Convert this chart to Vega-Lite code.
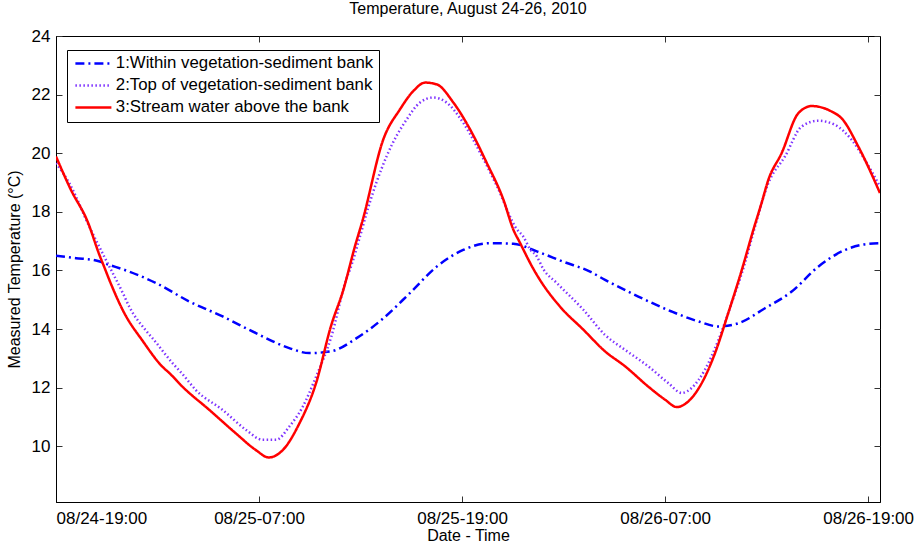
{
  "$schema": "https://vega.github.io/schema/vega-lite/v6.json",
  "width": 824,
  "height": 466,
  "autosize": {"type": "none"},
  "padding": {"left": 56, "top": 36, "right": 34, "bottom": 41},
  "title": {"text": "Temperature, August 24-26, 2010", "font": "Liberation Sans", "fontSize": 16, "fontWeight": "normal", "color": "black", "offset": 10},
  "datasets": {
    "temps": [
      {"s": "1:Within vegetation-sediment bank", "t": "2010-08-24T19:00", "v": 16.5},
      {"s": "1:Within vegetation-sediment bank", "t": "2010-08-24T20:11", "v": 16.42},
      {"s": "1:Within vegetation-sediment bank", "t": "2010-08-24T21:22", "v": 16.34},
      {"s": "1:Within vegetation-sediment bank", "t": "2010-08-24T22:09", "v": 16.19},
      {"s": "1:Within vegetation-sediment bank", "t": "2010-08-24T23:20", "v": 15.96},
      {"s": "1:Within vegetation-sediment bank", "t": "2010-08-25T00:55", "v": 15.57},
      {"s": "1:Within vegetation-sediment bank", "t": "2010-08-25T02:53", "v": 14.94},
      {"s": "1:Within vegetation-sediment bank", "t": "2010-08-25T04:51", "v": 14.43},
      {"s": "1:Within vegetation-sediment bank", "t": "2010-08-25T06:49", "v": 13.86},
      {"s": "1:Within vegetation-sediment bank", "t": "2010-08-25T08:47", "v": 13.35},
      {"s": "1:Within vegetation-sediment bank", "t": "2010-08-25T09:58", "v": 13.18},
      {"s": "1:Within vegetation-sediment bank", "t": "2010-08-25T11:15", "v": 13.24},
      {"s": "1:Within vegetation-sediment bank", "t": "2010-08-25T12:46", "v": 13.69},
      {"s": "1:Within vegetation-sediment bank", "t": "2010-08-25T14:21", "v": 14.37},
      {"s": "1:Within vegetation-sediment bank", "t": "2010-08-25T15:55", "v": 15.23},
      {"s": "1:Within vegetation-sediment bank", "t": "2010-08-25T17:30", "v": 16.13},
      {"s": "1:Within vegetation-sediment bank", "t": "2010-08-25T19:04", "v": 16.7},
      {"s": "1:Within vegetation-sediment bank", "t": "2010-08-25T20:39", "v": 16.93},
      {"s": "1:Within vegetation-sediment bank", "t": "2010-08-25T22:02", "v": 16.91},
      {"s": "1:Within vegetation-sediment bank", "t": "2010-08-25T23:25", "v": 16.65},
      {"s": "1:Within vegetation-sediment bank", "t": "2010-08-26T00:59", "v": 16.3},
      {"s": "1:Within vegetation-sediment bank", "t": "2010-08-26T02:34", "v": 15.96},
      {"s": "1:Within vegetation-sediment bank", "t": "2010-08-26T03:27", "v": 15.68},
      {"s": "1:Within vegetation-sediment bank", "t": "2010-08-26T05:25", "v": 15.11},
      {"s": "1:Within vegetation-sediment bank", "t": "2010-08-26T07:23", "v": 14.6},
      {"s": "1:Within vegetation-sediment bank", "t": "2010-08-26T08:58", "v": 14.26},
      {"s": "1:Within vegetation-sediment bank", "t": "2010-08-26T10:09", "v": 14.09},
      {"s": "1:Within vegetation-sediment bank", "t": "2010-08-26T11:20", "v": 14.2},
      {"s": "1:Within vegetation-sediment bank", "t": "2010-08-26T12:54", "v": 14.71},
      {"s": "1:Within vegetation-sediment bank", "t": "2010-08-26T14:29", "v": 15.28},
      {"s": "1:Within vegetation-sediment bank", "t": "2010-08-26T16:03", "v": 16.13},
      {"s": "1:Within vegetation-sediment bank", "t": "2010-08-26T17:38", "v": 16.7},
      {"s": "1:Within vegetation-sediment bank", "t": "2010-08-26T18:40", "v": 16.88},
      {"s": "1:Within vegetation-sediment bank", "t": "2010-08-26T19:42", "v": 16.93},

      {"s": "2:Top of vegetation-sediment bank", "t": "2010-08-24T19:00", "v": 19.66},
      {"s": "2:Top of vegetation-sediment bank", "t": "2010-08-24T19:47", "v": 18.98},
      {"s": "2:Top of vegetation-sediment bank", "t": "2010-08-24T20:58", "v": 17.5},
      {"s": "2:Top of vegetation-sediment bank", "t": "2010-08-24T21:57", "v": 16.36},
      {"s": "2:Top of vegetation-sediment bank", "t": "2010-08-24T22:57", "v": 15.23},
      {"s": "2:Top of vegetation-sediment bank", "t": "2010-08-24T23:20", "v": 14.76},
      {"s": "2:Top of vegetation-sediment bank", "t": "2010-08-25T00:19", "v": 13.95},
      {"s": "2:Top of vegetation-sediment bank", "t": "2010-08-25T00:43", "v": 13.68},
      {"s": "2:Top of vegetation-sediment bank", "t": "2010-08-25T01:54", "v": 12.83},
      {"s": "2:Top of vegetation-sediment bank", "t": "2010-08-25T02:29", "v": 12.46},
      {"s": "2:Top of vegetation-sediment bank", "t": "2010-08-25T03:16", "v": 11.92},
      {"s": "2:Top of vegetation-sediment bank", "t": "2010-08-25T04:51", "v": 11.24},
      {"s": "2:Top of vegetation-sediment bank", "t": "2010-08-25T06:14", "v": 10.56},
      {"s": "2:Top of vegetation-sediment bank", "t": "2010-08-25T07:13", "v": 10.22},
      {"s": "2:Top of vegetation-sediment bank", "t": "2010-08-25T08:00", "v": 10.22},
      {"s": "2:Top of vegetation-sediment bank", "t": "2010-08-25T08:47", "v": 10.67},
      {"s": "2:Top of vegetation-sediment bank", "t": "2010-08-25T09:35", "v": 11.35},
      {"s": "2:Top of vegetation-sediment bank", "t": "2010-08-25T10:22", "v": 12.37},
      {"s": "2:Top of vegetation-sediment bank", "t": "2010-08-25T11:15", "v": 13.7},
      {"s": "2:Top of vegetation-sediment bank", "t": "2010-08-25T12:11", "v": 15.75},
      {"s": "2:Top of vegetation-sediment bank", "t": "2010-08-25T12:23", "v": 16.05},
      {"s": "2:Top of vegetation-sediment bank", "t": "2010-08-25T12:58", "v": 17.16},
      {"s": "2:Top of vegetation-sediment bank", "t": "2010-08-25T13:22", "v": 17.98},
      {"s": "2:Top of vegetation-sediment bank", "t": "2010-08-25T14:33", "v": 19.91},
      {"s": "2:Top of vegetation-sediment bank", "t": "2010-08-25T15:44", "v": 21.16},
      {"s": "2:Top of vegetation-sediment bank", "t": "2010-08-25T16:31", "v": 21.73},
      {"s": "2:Top of vegetation-sediment bank", "t": "2010-08-25T17:18", "v": 21.9},
      {"s": "2:Top of vegetation-sediment bank", "t": "2010-08-25T18:05", "v": 21.73},
      {"s": "2:Top of vegetation-sediment bank", "t": "2010-08-25T19:04", "v": 21.04},
      {"s": "2:Top of vegetation-sediment bank", "t": "2010-08-25T20:04", "v": 20.02},
      {"s": "2:Top of vegetation-sediment bank", "t": "2010-08-25T21:03", "v": 18.89},
      {"s": "2:Top of vegetation-sediment bank", "t": "2010-08-25T22:14", "v": 17.41},
      {"s": "2:Top of vegetation-sediment bank", "t": "2010-08-25T22:37", "v": 17.16},
      {"s": "2:Top of vegetation-sediment bank", "t": "2010-08-25T23:01", "v": 16.73},
      {"s": "2:Top of vegetation-sediment bank", "t": "2010-08-25T23:25", "v": 16.48},
      {"s": "2:Top of vegetation-sediment bank", "t": "2010-08-25T23:48", "v": 16.05},
      {"s": "2:Top of vegetation-sediment bank", "t": "2010-08-26T00:36", "v": 15.57},
      {"s": "2:Top of vegetation-sediment bank", "t": "2010-08-26T02:10", "v": 14.66},
      {"s": "2:Top of vegetation-sediment bank", "t": "2010-08-26T03:27", "v": 13.8},
      {"s": "2:Top of vegetation-sediment bank", "t": "2010-08-26T04:38", "v": 13.29},
      {"s": "2:Top of vegetation-sediment bank", "t": "2010-08-26T06:00", "v": 12.73},
      {"s": "2:Top of vegetation-sediment bank", "t": "2010-08-26T07:11", "v": 12.16},
      {"s": "2:Top of vegetation-sediment bank", "t": "2010-08-26T07:59", "v": 11.82},
      {"s": "2:Top of vegetation-sediment bank", "t": "2010-08-26T08:34", "v": 11.99},
      {"s": "2:Top of vegetation-sediment bank", "t": "2010-08-26T09:21", "v": 12.61},
      {"s": "2:Top of vegetation-sediment bank", "t": "2010-08-26T10:09", "v": 13.63},
      {"s": "2:Top of vegetation-sediment bank", "t": "2010-08-26T10:56", "v": 14.89},
      {"s": "2:Top of vegetation-sediment bank", "t": "2010-08-26T11:43", "v": 16.25},
      {"s": "2:Top of vegetation-sediment bank", "t": "2010-08-26T12:13", "v": 17.3},
      {"s": "2:Top of vegetation-sediment bank", "t": "2010-08-26T13:06", "v": 18.98},
      {"s": "2:Top of vegetation-sediment bank", "t": "2010-08-26T14:05", "v": 19.89},
      {"s": "2:Top of vegetation-sediment bank", "t": "2010-08-26T15:04", "v": 20.91},
      {"s": "2:Top of vegetation-sediment bank", "t": "2010-08-26T16:03", "v": 21.11},
      {"s": "2:Top of vegetation-sediment bank", "t": "2010-08-26T17:02", "v": 20.97},
      {"s": "2:Top of vegetation-sediment bank", "t": "2010-08-26T18:02", "v": 20.45},
      {"s": "2:Top of vegetation-sediment bank", "t": "2010-08-26T18:49", "v": 19.77},
      {"s": "2:Top of vegetation-sediment bank", "t": "2010-08-26T19:42", "v": 18.86},

      {"s": "3:Stream water above the bank", "t": "2010-08-24T19:00", "v": 19.89},
      {"s": "3:Stream water above the bank", "t": "2010-08-24T19:53", "v": 18.75},
      {"s": "3:Stream water above the bank", "t": "2010-08-24T20:52", "v": 17.67},
      {"s": "3:Stream water above the bank", "t": "2010-08-24T21:34", "v": 16.53},
      {"s": "3:Stream water above the bank", "t": "2010-08-24T21:51", "v": 16.12},
      {"s": "3:Stream water above the bank", "t": "2010-08-24T22:09", "v": 15.68},
      {"s": "3:Stream water above the bank", "t": "2010-08-24T23:02", "v": 14.55},
      {"s": "3:Stream water above the bank", "t": "2010-08-25T00:07", "v": 13.6},
      {"s": "3:Stream water above the bank", "t": "2010-08-25T01:18", "v": 12.71},
      {"s": "3:Stream water above the bank", "t": "2010-08-25T01:42", "v": 12.5},
      {"s": "3:Stream water above the bank", "t": "2010-08-25T02:29", "v": 12.03},
      {"s": "3:Stream water above the bank", "t": "2010-08-25T04:04", "v": 11.24},
      {"s": "3:Stream water above the bank", "t": "2010-08-25T05:38", "v": 10.44},
      {"s": "3:Stream water above the bank", "t": "2010-08-25T06:49", "v": 9.87},
      {"s": "3:Stream water above the bank", "t": "2010-08-25T07:34", "v": 9.62},
      {"s": "3:Stream water above the bank", "t": "2010-08-25T08:24", "v": 9.87},
      {"s": "3:Stream water above the bank", "t": "2010-08-25T09:23", "v": 10.78},
      {"s": "3:Stream water above the bank", "t": "2010-08-25T10:22", "v": 12.15},
      {"s": "3:Stream water above the bank", "t": "2010-08-25T11:15", "v": 14.1},
      {"s": "3:Stream water above the bank", "t": "2010-08-25T11:59", "v": 15.34},
      {"s": "3:Stream water above the bank", "t": "2010-08-25T12:40", "v": 16.82},
      {"s": "3:Stream water above the bank", "t": "2010-08-25T13:07", "v": 17.7},
      {"s": "3:Stream water above the bank", "t": "2010-08-25T14:21", "v": 20.48},
      {"s": "3:Stream water above the bank", "t": "2010-08-25T15:20", "v": 21.5},
      {"s": "3:Stream water above the bank", "t": "2010-08-25T16:07", "v": 22.12},
      {"s": "3:Stream water above the bank", "t": "2010-08-25T16:49", "v": 22.41},
      {"s": "3:Stream water above the bank", "t": "2010-08-25T17:30", "v": 22.35},
      {"s": "3:Stream water above the bank", "t": "2010-08-25T18:29", "v": 21.73},
      {"s": "3:Stream water above the bank", "t": "2010-08-25T19:28", "v": 20.82},
      {"s": "3:Stream water above the bank", "t": "2010-08-25T20:27", "v": 19.68},
      {"s": "3:Stream water above the bank", "t": "2010-08-25T21:26", "v": 18.43},
      {"s": "3:Stream water above the bank", "t": "2010-08-25T22:02", "v": 17.39},
      {"s": "3:Stream water above the bank", "t": "2010-08-25T22:25", "v": 16.95},
      {"s": "3:Stream water above the bank", "t": "2010-08-25T23:13", "v": 16.05},
      {"s": "3:Stream water above the bank", "t": "2010-08-25T23:36", "v": 15.68},
      {"s": "3:Stream water above the bank", "t": "2010-08-26T00:47", "v": 14.77},
      {"s": "3:Stream water above the bank", "t": "2010-08-26T02:10", "v": 13.98},
      {"s": "3:Stream water above the bank", "t": "2010-08-26T03:27", "v": 13.24},
      {"s": "3:Stream water above the bank", "t": "2010-08-26T04:38", "v": 12.73},
      {"s": "3:Stream water above the bank", "t": "2010-08-26T06:00", "v": 12.04},
      {"s": "3:Stream water above the bank", "t": "2010-08-26T07:00", "v": 11.59},
      {"s": "3:Stream water above the bank", "t": "2010-08-26T07:41", "v": 11.34},
      {"s": "3:Stream water above the bank", "t": "2010-08-26T08:22", "v": 11.53},
      {"s": "3:Stream water above the bank", "t": "2010-08-26T09:10", "v": 12.16},
      {"s": "3:Stream water above the bank", "t": "2010-08-26T09:57", "v": 13.18},
      {"s": "3:Stream water above the bank", "t": "2010-08-26T10:44", "v": 14.55},
      {"s": "3:Stream water above the bank", "t": "2010-08-26T11:32", "v": 16.02},
      {"s": "3:Stream water above the bank", "t": "2010-08-26T12:13", "v": 17.39},
      {"s": "3:Stream water above the bank", "t": "2010-08-26T12:42", "v": 18.3},
      {"s": "3:Stream water above the bank", "t": "2010-08-26T13:06", "v": 19.09},
      {"s": "3:Stream water above the bank", "t": "2010-08-26T13:53", "v": 20.0},
      {"s": "3:Stream water above the bank", "t": "2010-08-26T14:52", "v": 21.36},
      {"s": "3:Stream water above the bank", "t": "2010-08-26T15:40", "v": 21.61},
      {"s": "3:Stream water above the bank", "t": "2010-08-26T16:51", "v": 21.42},
      {"s": "3:Stream water above the bank", "t": "2010-08-26T17:26", "v": 21.19},
      {"s": "3:Stream water above the bank", "t": "2010-08-26T18:25", "v": 20.23},
      {"s": "3:Stream water above the bank", "t": "2010-08-26T19:42", "v": 18.64}
    ]
  },
  "data": {"name": "temps"},
  "layer": [
    {
      "mark": {"type": "line", "strokeWidth": 2.5, "clip": true, "interpolate": "monotone"},
      "encoding": {
        "x": {
          "field": "t", "type": "temporal",
          "scale": {"domain": [{"year": 2010, "month": 8, "date": 24, "hours": 19}, {"year": 2010, "month": 8, "date": 26, "hours": 19, "minutes": 42}]},
          "axis": {
            "orient": "bottom", "title": "Date - Time", "format": "%m/%d-%H:%M",
            "values": [
              {"year": 2010, "month": 8, "date": 24, "hours": 19},
              {"year": 2010, "month": 8, "date": 25, "hours": 7},
              {"year": 2010, "month": 8, "date": 25, "hours": 19},
              {"year": 2010, "month": 8, "date": 26, "hours": 7},
              {"year": 2010, "month": 8, "date": 26, "hours": 19}
            ],
            "labelPadding": 14, "titlePadding": 1
          }
        },
        "y": {
          "field": "v", "type": "quantitative",
          "scale": {"domain": [8.1, 24], "nice": false, "zero": false},
          "axis": {"orient": "left", "title": "Measured Temperature (°C)", "values": [10, 12, 14, 16, 18, 20, 22, 24], "labelPadding": 12, "titlePadding": 9}
        },
        "color": {
          "field": "s", "type": "nominal",
          "scale": {"domain": ["1:Within vegetation-sediment bank", "2:Top of vegetation-sediment bank", "3:Stream water above the bank"], "range": ["#0000ff", "#7f33ff", "#ff0000"]},
          "legend": {"title": null, "orient": "none", "legendX": 11, "legendY": 14}
        },
        "strokeDash": {
          "field": "s", "type": "nominal",
          "scale": {"domain": ["1:Within vegetation-sediment bank", "2:Top of vegetation-sediment bank", "3:Stream water above the bank"], "range": [[9, 4, 2, 4], [1.5, 2.5], [1, 0]]},
          "legend": {"title": null, "orient": "none", "legendX": 11, "legendY": 14}
        }
      }
    },
    {
      "mark": {"type": "line", "opacity": 0},
      "encoding": {
        "x": {
          "field": "t", "type": "temporal",
          "scale": {"domain": [{"year": 2010, "month": 8, "date": 24, "hours": 19}, {"year": 2010, "month": 8, "date": 26, "hours": 19, "minutes": 42}]},
          "axis": {
            "orient": "top", "title": null, "labels": false, "domain": false,
            "values": [
              {"year": 2010, "month": 8, "date": 24, "hours": 19},
              {"year": 2010, "month": 8, "date": 25, "hours": 7},
              {"year": 2010, "month": 8, "date": 25, "hours": 19},
              {"year": 2010, "month": 8, "date": 26, "hours": 7},
              {"year": 2010, "month": 8, "date": 26, "hours": 19}
            ]
          }
        },
        "y": {
          "field": "v", "type": "quantitative",
          "scale": {"domain": [8.1, 24], "nice": false, "zero": false},
          "axis": {"orient": "right", "title": null, "labels": false, "domain": false, "values": [10, 12, 14, 16, 18, 20, 22, 24]}
        }
      }
    }
  ],
  "resolve": {"axis": {"x": "independent", "y": "independent"}},
  "config": {
    "view": {"stroke": "black", "strokeWidth": 1},
    "axis": {
      "grid": false,
      "domainColor": "black",
      "tickColor": "#333333",
      "tickSize": -6,
      "labelColor": "black",
      "titleColor": "black",
      "labelFont": "Liberation Sans",
      "titleFont": "Liberation Sans",
      "labelFontSize": 17,
      "titleFontSize": 16,
      "titleFontWeight": "normal"
    },
    "legend": {
      "strokeColor": "black",
      "fillColor": "white",
      "padding": 5,
      "cornerRadius": 0,
      "labelFont": "Liberation Sans",
      "labelFontSize": 16.8,
      "labelColor": "black",
      "labelLimit": 400,
      "symbolType": "M-1,0H6.2",
      "symbolSize": 100,
      "symbolStrokeWidth": 2.5,
      "rowPadding": 4,
      "labelOffset": 27
    }
  }
}
